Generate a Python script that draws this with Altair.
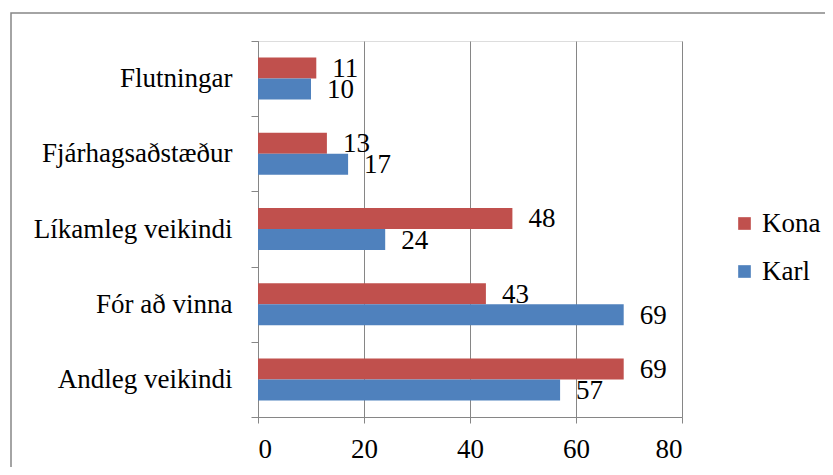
import altair as alt
import pandas as pd

categories = ["Flutningar", "Fjárhagsaðstæður", "Líkamleg veikindi", "Fór að vinna", "Andleg veikindi"]
series = ["Kona", "Karl"]
kona = [11, 13, 48, 43, 69]
karl = [10, 17, 24, 69, 57]
colors = ["#C0504D", "#4F81BD"]
x_ticks = [0, 20, 40, 60, 80]

rows = []
for c, v in zip(categories, kona):
    rows.append({"cat": c, "kyn": "Kona", "val": v})
for c, v in zip(categories, karl):
    rows.append({"cat": c, "kyn": "Karl", "val": v})
df = pd.DataFrame(rows)

FONT = "Liberation Serif"
FS = 27
GRAY = "#868686"

y_enc = alt.Y("cat:N", sort=categories, title=None,
              scale=alt.Scale(paddingInner=0, paddingOuter=0),
              axis=alt.Axis(tickBand="extent", domainColor=GRAY, tickColor=GRAY,
                            tickSize=7, labelPadding=19, labelFont=FONT,
                            labelFontSize=FS, labelColor="#000000", grid=False,
                            labelLimit=400))
yoff = alt.YOffset("kyn:N", sort=series,
                   scale=alt.Scale(paddingInner=0, paddingOuter=0.79))
x_enc = alt.X("val:Q", title=None,
              scale=alt.Scale(domain=[0, 80], nice=False),
              axis=alt.Axis(values=x_ticks, grid=True, gridColor=GRAY, gridOpacity=1,
                            domainColor=GRAY, tickColor=GRAY, tickSize=6,
                            labelPadding=13, labelFont=FONT, labelFontSize=FS,
                            labelColor="#000000"))

base = alt.Chart(df)

bars = base.mark_bar(strokeWidth=0).encode(
    x=x_enc, y=y_enc, yOffset=yoff,
    color=alt.Color("kyn:N", sort=series, title=None,
                    scale=alt.Scale(domain=series, range=colors),
                    legend=alt.Legend(orient="none", legendX=473, legendY=169,
                                      symbolType="square", symbolSize=160,
                                      symbolStrokeWidth=0, labelFont=FONT,
                                      labelFontSize=FS, labelColor="#000000",
                                      rowPadding=20, labelOffset=4, labelLimit=200)),
)

labels = base.mark_text(align="left", baseline="middle", dx=16, dy=1,
                        font=FONT, fontSize=FS, color="#000000").encode(
    x="val:Q", y=alt.Y("cat:N", sort=categories), yOffset=alt.YOffset("kyn:N", sort=series),
    text="val:Q",
)

border = alt.Chart(pd.DataFrame({"a": [0]})).mark_rect(
    fill=None, stroke=GRAY, strokeWidth=1.5, clip=False
).encode(x=alt.value(-247), x2=alt.value(700), y=alt.value(-28), y2=alt.value(600))

chart = alt.layer(border, bars, labels).properties(
    width=424, height=376,
    autosize=alt.AutoSizeParams(type="none"),
    padding={"left": 250, "top": 33, "right": 143, "bottom": 50},
).configure_view(stroke=None).configure(background="#ffffff")

chart.save("out.html", embed_options={"renderer": "svg", "actions": False})
